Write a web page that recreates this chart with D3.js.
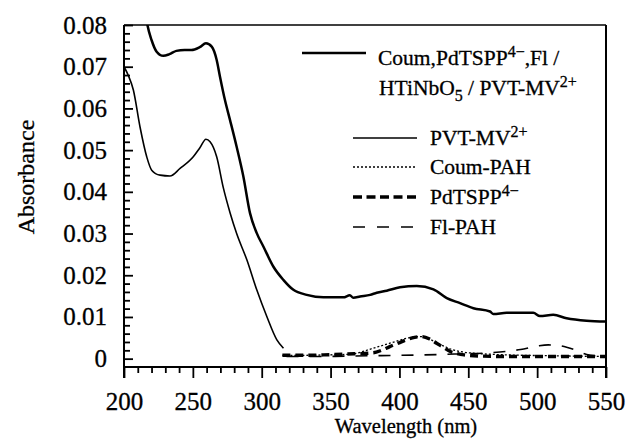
<!DOCTYPE html>
<html><head><meta charset="utf-8">
<script src="https://cdn.jsdelivr.net/npm/d3@7"></script>
<style>body{margin:0;background:#fff}svg{display:block}svg text{font-family:"Liberation Serif","Times New Roman",Times,serif !important;fill:#000;stroke:#000;stroke-width:0.3px}</style>
</head><body><svg id="c" width="629" height="439"></svg>
<script>
// ---- data ----
const compositeW = [215,217,220,223.7,228.5,233,238,244,249,255,259.5,263.7,267.3,269.7,273.3,277,281.8,286.6,291.5,296.4,301.2,308.4,315.7,323,332.7,344.8,359.3,364,366.5,371.4,378.7,383.5,390.8,400.4,412.6,424.7,434.4,444,453.7,465.8,468.2,477.9,497.2,502,511.7,521.4,535.9,550];
const compositeV = [0.0840,0.0800,0.0764,0.0736,0.0726,0.0730,0.0738,0.0740,0.0740,0.0747,0.0756,0.0748,0.0716,0.0676,0.0620,0.0572,0.0508,0.0438,0.0349,0.0301,0.0269,0.0221,0.0189,0.0165,0.0153,0.0147,0.0147,0.0152,0.0146,0.0149,0.0153,0.0158,0.0163,0.0171,0.0174,0.0166,0.0145,0.0133,0.0121,0.0113,0.0107,0.0110,0.0110,0.0102,0.0105,0.0097,0.0091,0.0089];
const pvtW = [200,203,206.8,211.6,216.5,220.1,226.2,233.4,240.7,250.3,255,259.5,262.5,267.3,272.1,277,281.8,289.2,296.4,303.7,311,315.8];
const pvtV = [0.0700,0.0680,0.0644,0.0556,0.0484,0.0452,0.0440,0.0438,0.0456,0.0484,0.0505,0.0526,0.0520,0.0484,0.0410,0.0350,0.0300,0.0237,0.0165,0.0101,0.0045,0.0025];
const coumW = [315,330,345,360,369,379,386,393,400,405,411,416,422,427,433,439,446,454,470,490,510,530,550];
const coumV = [0.0008,0.0008,0.0009,0.0010,0.0013,0.0023,0.0030,0.0037,0.0044,0.0049,0.0052,0.0053,0.0047,0.0038,0.0029,0.0021,0.0016,0.0013,0.0010,0.0008,0.0007,0.0006,0.0005];
const pdW = [315,330,345,362,381,387,393,399,405,411,416,422,427,432,437,442,447,461,483,502,520,535,550];
const pdV = [0.0008,0.0008,0.0009,0.0011,0.0014,0.0020,0.0029,0.0037,0.0045,0.0051,0.0053,0.0047,0.0037,0.0027,0.0017,0.0012,0.0009,0.0006,0.0005,0.0005,0.0005,0.0005,0.0005];
const flW = [318,340,360,380,400,417,440,465,488,500,508,515,522,529,536,545,550];
const flV = [0.0005,0.0005,0.0006,0.0007,0.0008,0.0009,0.0011,0.0014,0.0022,0.0030,0.0033,0.0032,0.0027,0.0019,0.0010,0.0006,0.0005];
const xTicks = [200,250,300,350,400,450,500,550];
const yTicks = [0,0.01,0.02,0.03,0.04,0.05,0.06,0.07,0.08];
const yTickLabels = ["0","0.01","0.02","0.03","0.04","0.05","0.06","0.07","0.08"];

// ---- layout ----
const L=124, R=606, T=25, B=367;
const svg = d3.select("#c");
const x = d3.scaleLinear().domain([200,550]).range([L,R]);
const y = d3.scaleLinear().domain([-0.002,0.08]).range([B,T]);

svg.append("defs").append("clipPath").attr("id","clip")
  .append("rect").attr("x",L).attr("y",T).attr("width",R-L).attr("height",B-T);

// axes
const xMinor = d3.range(200,551,10).filter(v=>v%50!==0);
const yMinor = d3.range(0,0.0801,0.002).filter(v=>Math.abs(v*100-Math.round(v*100))>1e-6);

svg.append("g").attr("transform",`translate(0,${B})`)
  .call(d3.axisBottom(x).tickValues(xTicks).tickSize(11).tickPadding(14).tickFormat(d3.format("d")));
svg.append("g").attr("transform",`translate(0,${B})`)
  .call(d3.axisBottom(x).tickValues(xMinor).tickSize(6).tickFormat(""));
svg.append("g").attr("transform",`translate(${L},0)`)
  .call(d3.axisLeft(y).tickValues(yTicks).tickSize(-9).tickPadding(17).tickFormat((d,i)=>yTickLabels[i]));
svg.append("g").attr("transform",`translate(${L},0)`)
  .call(d3.axisLeft(y).tickValues(yMinor).tickSize(-6).tickFormat(""));
svg.selectAll("g").attr("font-family",null);
svg.selectAll(".domain").remove();
svg.selectAll(".tick line").attr("stroke","#000").attr("stroke-width",1.8);
svg.selectAll(".tick text").style("font-size","25px").attr("fill","#000");

// frame
const frame = svg.append("g").attr("stroke","#000").attr("stroke-width",2).attr("fill","none");
frame.append("line").attr("x1",L).attr("x2",L).attr("y1",T).attr("y2",B+11);
frame.append("line").attr("x1",R).attr("x2",R).attr("y1",T).attr("y2",B+11);
frame.append("line").attr("x1",L).attr("x2",R).attr("y1",B).attr("y2",B);
frame.append("line").attr("x1",L).attr("x2",R).attr("y1",T).attr("y2",T).attr("stroke-width",1.5);

// titles
svg.append("text").attr("x",406).attr("y",433).attr("text-anchor","middle")
  .style("font-size","20.5px").text("Wavelength (nm)");
svg.append("text").attr("transform","translate(34,177) rotate(-90)").attr("text-anchor","middle")
  .style("font-size","24px").text("Absorbance");

// curves
const line = d3.line().x(d=>x(d[0])).y(d=>y(d[1])).curve(d3.curveMonotoneX);
const plot = svg.append("g").attr("clip-path","url(#clip)").attr("fill","none").attr("stroke","#000");
const zip = (a,b)=>a.map((w,i)=>[w,b[i]]);
const series = [
  {w:flW, v:flV, sw:1.6, dash:"12,11"},
  {w:coumW, v:coumV, sw:1.3, dash:"2,2"},
  {w:pdW, v:pdV, sw:3.4, dash:"8,5"},
  {w:pvtW, v:pvtV, sw:1.6, dash:null},
  {w:compositeW, v:compositeV, sw:2.5, dash:null}
];
series.forEach(s=>{
  const p = plot.append("path").attr("d",line(zip(s.w,s.v))).attr("stroke-width",s.sw).attr("stroke-linejoin","round");
  if(s.dash) p.attr("stroke-dasharray",s.dash);
});

// legend
const lg = svg.append("g");
lg.append("line").attr("x1",302).attr("x2",366).attr("y1",53).attr("y2",53).attr("stroke","#000").attr("stroke-width",2.5);
function richText(xp, yp, parts){
  const t = lg.append("text").attr("x",xp).attr("y",yp).style("font-size","21.5px");
  let shift = 0;
  parts.forEach(p=>{
    const ts = t.append("tspan").text(p.t);
    let target = p.sup? -8 : (p.sub? 6 : 0);
    ts.attr("dy", target-shift);
    shift = target;
    if(p.sup||p.sub) ts.style("font-size","16px");
  });
  return t;
}
richText(378,65,[{t:"Coum,PdTSPP"},{t:"4−",sup:true},{t:",Fl /"}]);
richText(379,95,[{t:"HTiNbO"},{t:"5",sub:true},{t:" / PVT-MV"},{t:"2+",sup:true}]);
const entries = [
  {y:138, sw:1.6, dash:null, parts:[{t:"PVT-MV"},{t:"2+",sup:true}]},
  {y:167, sw:1.3, dash:"2,2", parts:[{t:"Coum-PAH"}]},
  {y:197, sw:3.4, dash:"9,4.5", parts:[{t:"PdTSPP"},{t:"4−",sup:true}]},
  {y:227, sw:1.6, dash:"12,12", parts:[{t:"Fl-PAH"}]}
];
entries.forEach(e=>{
  const l = lg.append("line").attr("x1",353).attr("x2",417).attr("y1",e.y).attr("y2",e.y)
    .attr("stroke","#000").attr("stroke-width",e.sw);
  if(e.dash) l.attr("stroke-dasharray",e.dash);
  richText(430, e.y+7, e.parts);
});
</script></body></html>
